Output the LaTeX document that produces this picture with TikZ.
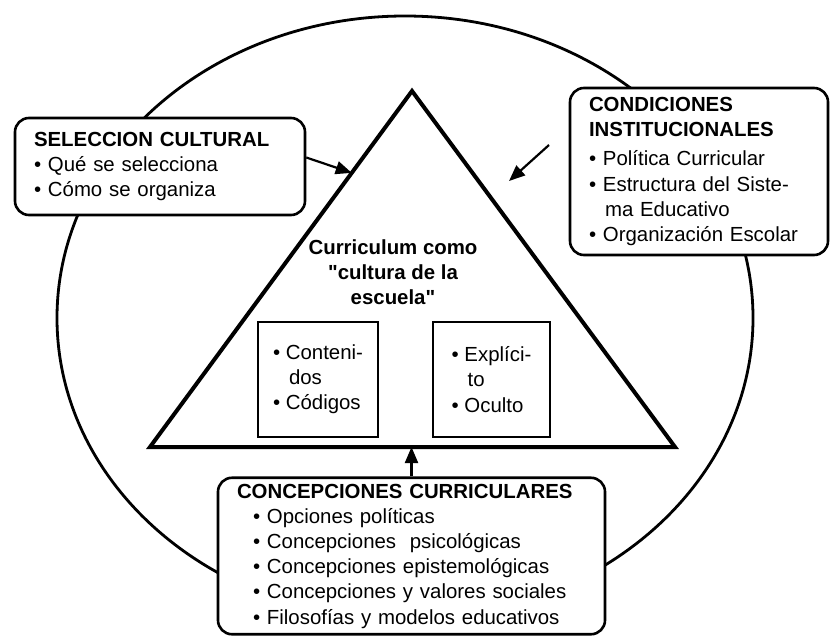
\documentclass[tikz,border=0pt]{standalone}
\usepackage{fontspec}
\setmainfont{Liberation Sans}[Ligatures=TeXOff]
\usetikzlibrary{arrows.meta, positioning, calc}
\tikzset{
  >={Triangle[length=8pt, width=6.5pt]},
  txt/.style={font=\fontsize{10.2}{12.6}\selectfont},
  box/.style={rectangle, rounded corners=7pt, draw, line width=1.3pt, fill=white,
              align=left, inner xsep=9.5pt, inner ysep=3pt, txt},
  sbox/.style={box, rounded corners=0pt, inner xsep=4pt},
  flow/.style={->, line width=1.1pt},
  rim/.style={line width=1.4pt},
  tri/.style={line width=2pt, line join=miter},
}
\newcommand{\bul}{\textbullet\ }
\newcommand{\bi}{\hspace*{8pt}\textbullet\ }

\begin{document}
\begin{tikzpicture}[x=0.5pt, y=-0.5pt]
  \useasboundingbox (0,0) rectangle (834,637);
  \draw[rim] (405,318) ellipse [x radius=174pt, y radius=151pt];
  \coordinate (apex) at (412,91);
  \coordinate (bl) at (150,447);
  \coordinate (br) at (675,447);
  \draw[tri] (apex) -- (bl) -- (br) -- cycle;
  \node[txt, font=\fontsize{10.2}{12.6}\selectfont\bfseries, align=center] (cur) at (393,272)
    {Curriculum como\\"cultura de la\\escuela"};
  \node[sbox, minimum width=60pt, minimum height=57.5pt] (cont) at (318,379.5)
    {\bul Conteni-\\\hspace*{8pt}dos\\\bul Códigos};
  \node[sbox, minimum width=58.5pt, minimum height=57.5pt] (expl) at (491.5,379.5)
    {\bul Explíci-\\\hspace*{8pt}to\\\bul Oculto};
  \node[box, minimum height=48.5pt, text width=126pt] (sel) at (160,166.5)
    {\textbf{SELECCION CULTURAL}\\\bul Qué se selecciona\\\bul Cómo se organiza};
  \node[box, minimum height=83.5pt, text width=110pt] (cond) at (699,171.5)
    {\textbf{CONDICIONES}\\\textbf{INSTITUCIONALES}\\[2pt]\bul Política Curricular\\\bul Estructura del Siste-\\\hspace*{8pt}ma Educativo\\\bul Organización Escolar};
  \node[box, minimum height=78pt, text width=174.5pt] (conc) at (411.5,556)
    {\textbf{CONCEPCIONES CURRICULARES}\\\bi Opciones políticas\\\bi Concepciones\ \ psicológicas\\\bi Concepciones epistemológicas\\\bi Concepciones y valores sociales\\\bi Filosofías y modelos educativos};
  \coordinate (tl) at ($(apex)!0.23!(bl)$);
  \coordinate (cs) at (549,145);
  \coordinate (ce) at (509,181);
  \draw[flow] ([yshift=4.5pt]sel.east) -- (tl);
  \draw[flow] (cs) -- (ce);
  \draw[flow] (conc.north) -- (conc.north |- bl);
\end{tikzpicture}
\end{document}
